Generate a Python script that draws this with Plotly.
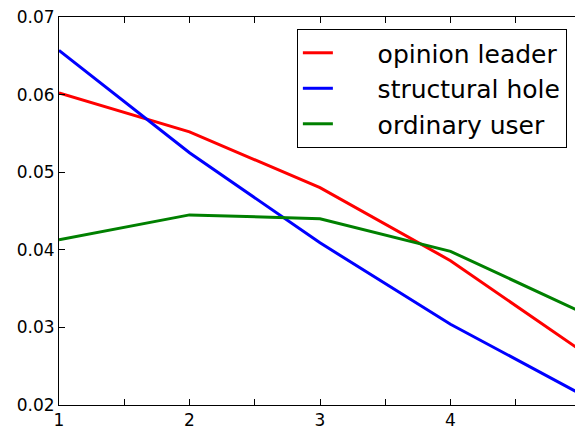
import plotly.graph_objects as go

x_vals = [1, 2, 3, 4, 5]
opinion_leader = [0.0602, 0.0552, 0.0480, 0.0386, 0.0270]
structural_hole = [0.0657, 0.0525, 0.0409, 0.0304, 0.0214]
ordinary_user = [0.0413, 0.0445, 0.0440, 0.0398, 0.0320]
series_names = ["opinion leader", "structural hole", "ordinary user"]
colors = ["#ff0000", "#0000ff", "#008000"]

fig = go.Figure()
for i, (name, ys) in enumerate(zip(series_names, [opinion_leader, structural_hole, ordinary_user])):
    fig.add_trace(go.Scatter(
        x=x_vals, y=ys, mode="lines", name="     " + name,
        line=dict(color=colors[i], width=3),
    ))

fig.update_layout(
    width=575, height=427,
    margin=dict(l=59, r=0, t=17, b=22, autoexpand=False),
    paper_bgcolor="white", plot_bgcolor="white",
    font=dict(family="DejaVu Sans", size=17, color="black"),
    showlegend=True,
    legend=dict(
        x=0.461, y=0.969, xanchor="left", yanchor="top",
        bordercolor="black", borderwidth=1, bgcolor="white",
        font=dict(family="DejaVu Sans", size=25, color="black"),
    ),
    xaxis=dict(
        range=[1, 4.954], tickvals=[1, 2, 3, 4], ticktext=["1", "2", "3", "4"],
        showgrid=False, zeroline=False, automargin=False,
        showline=True, linecolor="black", linewidth=1, mirror="ticks",
        ticks="inside", ticklen=6, tickcolor="black",
        minor=dict(tickvals=[1.5, 2.5, 3.5, 4.5], ticks="inside", ticklen=6, tickcolor="black"),
        tickfont=dict(size=17), ticklabeloverflow="allow",
    ),
    yaxis=dict(
        range=[0.02, 0.07], tickvals=[0.02, 0.03, 0.04, 0.05, 0.06, 0.07],
        tickformat=".2f", automargin=False,
        showgrid=False, zeroline=False,
        showline=True, linecolor="black", linewidth=1, mirror=False,
        ticks="inside", ticklen=6, tickcolor="black",
        tickfont=dict(size=17), ticklabeloverflow="allow",
    ),
)

fig.write_html(
    "out.html",
    config={"displayModeBar": False},
    post_script="document.body.style.margin='0';document.body.style.overflow='hidden';",
)
